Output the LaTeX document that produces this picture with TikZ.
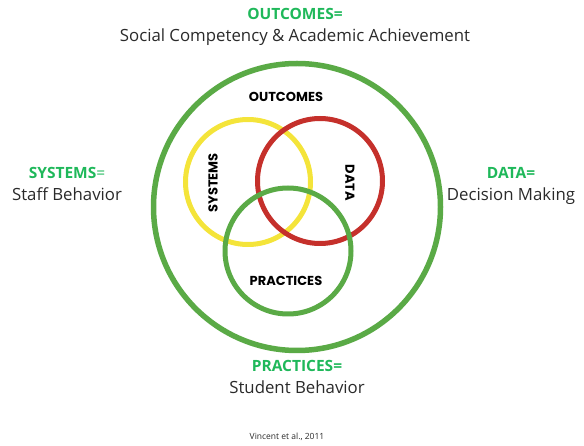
\documentclass[tikz,border=0pt]{standalone}
\usepackage{fontspec}
\setmainfont{Open Sans}
\newfontfamily\ringfont{Poppins}
\usetikzlibrary{positioning}
\definecolor{titlegreen}{HTML}{1FB85A}
\definecolor{ringgreen}{HTML}{5AAA46}
\definecolor{ringyellow}{HTML}{F4E43A}
\definecolor{ringred}{HTML}{C5302B}
\definecolor{textgrey}{HTML}{2A2A2A}
\tikzset{
    ring/.style={circle, draw, line width=5pt, inner sep=0pt},
    outerring/.style={ring, line width=5.5pt},
    ringlabel/.style={font=\ringfont\bfseries\fontsize{13}{15}\selectfont, text=black, inner sep=0pt},
    head/.style={font=\bfseries\fontsize{15.5}{18}\selectfont, text=titlegreen, inner sep=0pt},
    meaning/.style={font=\fontsize{16.8}{19}\selectfont, text=textgrey, inner sep=0pt}
}
\begin{document}
\begin{tikzpicture}[x=1pt, y=-1pt]
        \useasboundingbox (0,0) rectangle (584,446);
        % the rings
        \node[outerring, draw=ringgreen, minimum size=287pt] (outer) at (297,207) {};
        \node[ring, draw=ringyellow, minimum size=125pt] (sys) at (248,182) {};
        \node[ring, draw=ringred, minimum size=125pt] (dat) at (320,181) {};
        \node[ring, draw=ringgreen, minimum size=126pt] (prac) at (288,251) {};
        % names inside the rings
        \node[ringlabel] (outlbl) at (286,97) {OUTCOMES};
        \node[ringlabel, rotate=90] (syslbl) at (213,183) {SYSTEMS};
        \node[ringlabel, rotate=-90] (datlbl) at (350,183) {DATA};
        \node[ringlabel] (praclbl) at (286,281) {PRACTICES};
        % what each one means
        \node[head] (outhead) at (295,14) {OUTCOMES=};
        \node[meaning, below=9pt of outhead] (outtext) {Social Competency \& Academic Achievement};
        \node[head] (syshead) at (67,173) {SYSTEMS{\mdseries=}};
        \node[meaning, below=9pt of syshead] (systext) {Staff Behavior};
        \node[head] (dathead) at (511,173) {DATA=};
        \node[meaning, below=9pt of dathead] (dattext) {Decision Making};
        \node[head] (prachead) at (297,366) {PRACTICES=};
        \node[meaning, below=9pt of prachead] (practext) {Student Behavior};
        \node[font=\fontsize{8.5}{10}\selectfont, text=textgrey, inner sep=0pt] (cite) at (287,437) {Vincent et al., 2011};
    \end{tikzpicture}
\end{document}
